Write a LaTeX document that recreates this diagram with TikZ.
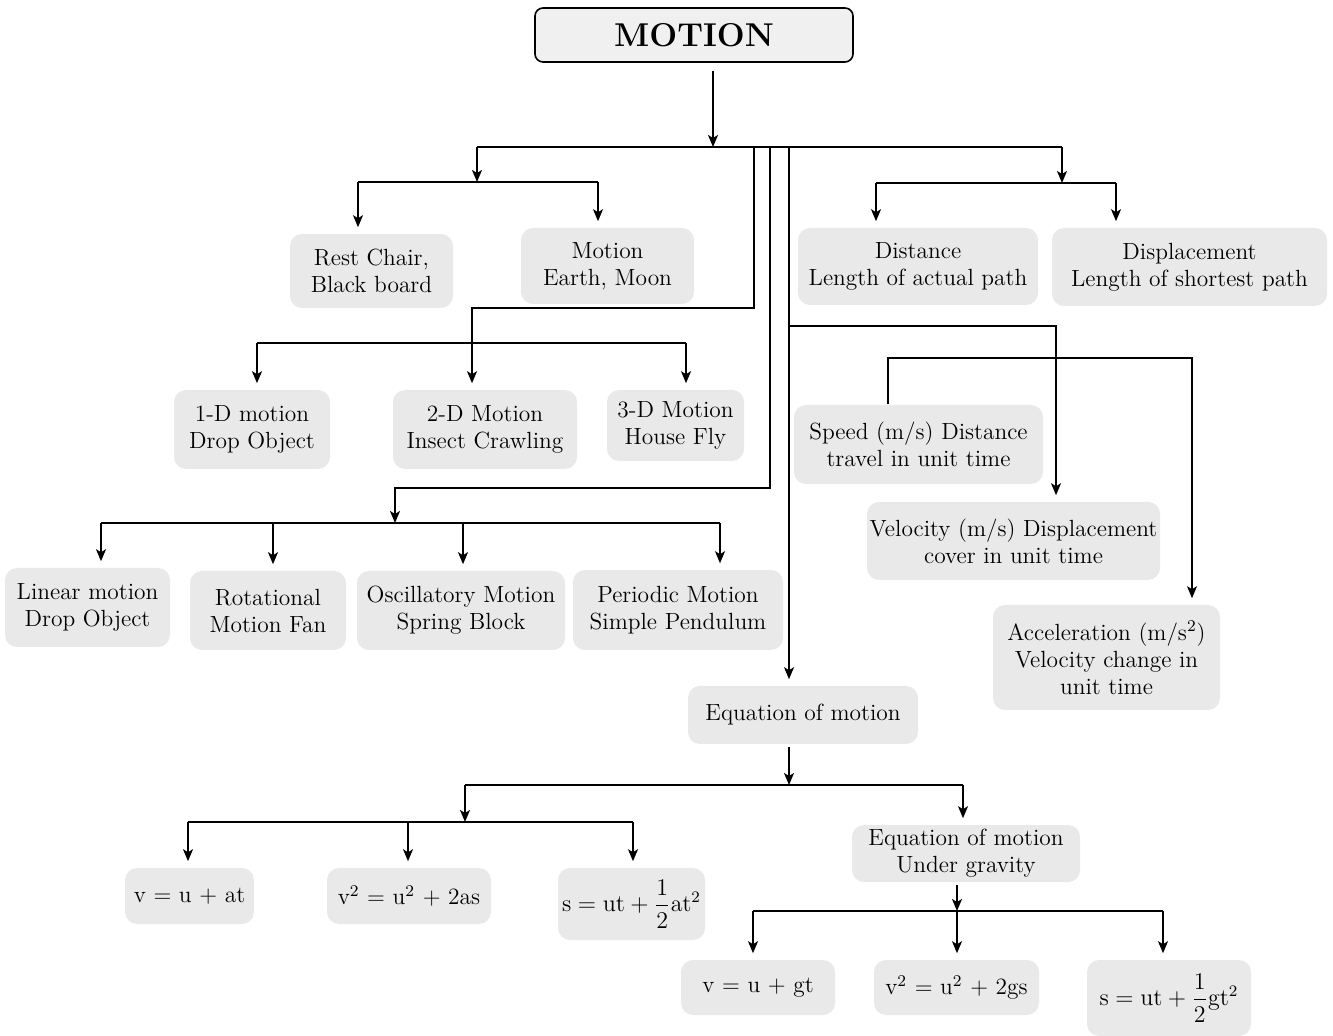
\documentclass[tikz,border=0pt]{standalone}
\usepackage{amsmath}
\usepackage{tikz}
\usetikzlibrary{arrows.meta, calc}
\definecolor{boxfill}{RGB}{233, 233, 233}
\definecolor{headfill}{RGB}{240, 240, 240}

\begin{document}
\begin{tikzpicture}[x=0.5pt, y=-0.5pt, thick,
  font=\fontsize{11.7}{13.5}\selectfont,
  box/.style={fill=boxfill, rounded corners=6pt, align=center, inner sep=0pt},
  arr/.style={-{Stealth[length=6pt, width=5pt, inset=1.5pt]}},
  tobox/.style={arr, shorten >=3pt}]

  \useasboundingbox (0, 0) rectangle (1333, 1036);

  \node[draw, fill=headfill, rounded corners=4pt, minimum width=159pt, minimum height=27pt,
    font=\fontsize{16.5}{20}\selectfont\bfseries] (motion) at (694, 35) {MOTION};

  \node[box, minimum width=81.5pt, minimum height=37pt] (rest) at (371.5, 271) {Rest Chair,\\Black board};
  \node[box, minimum width=86.5pt, minimum height=38pt] (moving) at (607.5, 266) {Motion\\Earth, Moon};
  \node[box, minimum width=120pt, minimum height=38.5pt] (distance) at (918, 266.5) {Distance\\Length of actual path};
  \node[box, minimum width=137.5pt, minimum height=39pt] (displacement) at (1189.5, 267) {Displacement\\Length of shortest path};

  \node[box, minimum width=78pt, minimum height=39.5pt] (oned) at (252, 429.5) {1-D motion\\Drop Object};
  \node[box, minimum width=92pt, minimum height=39.5pt] (twod) at (485, 429.5) {2-D Motion\\Insect Crawling};
  \node[box, minimum width=68.5pt, minimum height=35.5pt] (threed) at (675.5, 425.5) {3-D Motion\\House Fly};

  \node[box, minimum width=82.5pt, minimum height=39.5pt] (linear) at (87.5, 607.5) {Linear motion\\Drop Object};
  \node[box, minimum width=78pt, minimum height=39.5pt] (rotational) at (268, 610.5) {Rotational\\Motion Fan};
  \node[box, minimum width=104pt, minimum height=39.5pt] (oscillatory) at (461, 610.5) {Oscillatory Motion\\Spring Block};
  \node[box, minimum width=105pt, minimum height=40pt] (periodic) at (678, 610) {Periodic Motion\\Simple Pendulum};

  \node[box, minimum width=124.5pt, minimum height=39.5pt] (speed) at (918.5, 444.5) {Speed (m/s) Distance\\travel in unit time};
  \node[box, minimum width=146.5pt, minimum height=39pt] (velocity) at (1013.5, 541) {Velocity (m/s) Displacement\\cover in unit time};
  \node[box, minimum width=113.5pt, minimum height=52.5pt] (accel) at (1106.5, 657.5) {Acceleration (m/s\textsuperscript{2})\\Velocity change in\\unit time};

  \node[box, minimum width=115pt, minimum height=29pt] (eqmotion) at (803, 715) {Equation of motion};
  \node[box, minimum width=114pt, minimum height=28.5pt] (eqgravity) at (966, 853.5) {Equation of motion\\Under gravity};

  \node[box, minimum width=64.5pt, minimum height=28pt] (eqa) at (189.5, 896) {v = u + at};
  \node[box, minimum width=82pt, minimum height=28pt] (eqb) at (409, 896) {v\textsuperscript{2} = u\textsuperscript{2} + 2as};
  \node[box, minimum width=73.5pt, minimum height=36pt] (eqc) at (631.5, 904) {$\mathrm{s = ut} + \dfrac{1}{2}\mathrm{at}^{2}$};
  \node[box, minimum width=77pt, minimum height=27.5pt] (eqd) at (758, 987.5) {v = u + gt};
  \node[box, minimum width=82.5pt, minimum height=27.5pt] (eqe) at (956.5, 987.5) {v\textsuperscript{2} = u\textsuperscript{2} + 2gs};
  \node[box, minimum width=82pt, minimum height=38pt] (eqf) at (1169, 998) {$\mathrm{s = ut} + \dfrac{1}{2}\mathrm{gt}^{2}$};

  % main branches
  \coordinate (hub) at (713, 147);
  \coordinate (hubL) at (477, 147);
  \coordinate (hubR) at (1062, 147);
  \draw[arr] ([yshift=-4pt]motion.south -| hub) -- (hub);
  \draw (hubL) -- (hubR);

  % rest and motion
  \coordinate (a0) at (477, 182);
  \coordinate (a1) at (358, 182);
  \coordinate (a2) at (598, 182);
  \draw[arr] (hubL) -- (a0);
  \draw (a1) -- (a2);
  \draw[tobox] (a1) -- (a1 |- rest.north);
  \draw[tobox] (a2) -- (a2 |- moving.north);

  % distance and displacement
  \coordinate (b0) at (1062, 183);
  \coordinate (b1) at (876, 183);
  \coordinate (b2) at (1116, 183);
  \draw[arr] (hubR) -- (b0);
  \draw (b1) -- (b2);
  \draw[tobox] (b1) -- (b1 |- distance.north);
  \draw[tobox] (b2) -- (b2 |- displacement.north);

  % dimensions
  \coordinate (c0) at (754, 147);
  \coordinate (c1) at (472, 308);
  \coordinate (c2) at (257, 343);
  \coordinate (c3) at (686, 343);
  \draw[tobox] (c0) |- (c1) -- (c1 |- twod.north);
  \draw (c2) -- (c3);
  \draw[tobox] (c2) -- (c2 |- oned.north);
  \draw[tobox] (c3) -- (c3 |- threed.north);

  % types of motion
  \coordinate (d0) at (770, 147);
  \coordinate (d1) at (395, 488);
  \coordinate (d2) at (395, 523);
  \coordinate (d3) at (101, 523);
  \coordinate (d4) at (720, 523);
  \draw[arr] (d0) |- (d1) -- (d2);
  \draw (d3) -- (d4);
  \foreach \x/\n in {101/linear, 273/rotational, 463/oscillatory, 720/periodic} {
    \coordinate (dd) at (\x, 523);
    \draw[tobox] (dd) -- (dd |- \n.north);
  }

  % speed, velocity, acceleration
  \coordinate (e0) at (789, 147);
  \coordinate (e1) at (789, 326);
  \coordinate (e2) at (1056, 326);
  \draw[tobox] (e0) -- (e0 |- eqmotion.north);
  \draw[tobox] (e1) -| (e2 |- velocity.north);
  \coordinate (f0) at (888, 358);
  \coordinate (f1) at (1192, 358);
  \draw[tobox] (f0 |- speed.north) -- (f0) -- (f1) -- (f1 |- accel.north);

  % equations
  \coordinate (g0) at (789, 785);
  \coordinate (g1) at (465, 785);
  \coordinate (g2) at (963, 785);
  \coordinate (g3) at (465, 822);
  \coordinate (g4) at (188, 822);
  \coordinate (g5) at (633, 822);
  \draw[arr] ([yshift=-1pt]g0 |- eqmotion.south) -- (g0);
  \draw (g1) -- (g2);
  \draw[arr] (g1) -- (g3);
  \draw[tobox] (g2) -- (g2 |- eqgravity.north);
  \draw (g4) -- (g5);
  \foreach \x/\n in {188/eqa, 408/eqb, 633/eqc} {
    \coordinate (gg) at (\x, 822);
    \draw[tobox] (gg) -- (gg |- \n.north);
  }

  \coordinate (h0) at (957, 911);
  \coordinate (h1) at (753, 911);
  \coordinate (h2) at (1163, 911);
  \draw[arr] ([yshift=-1pt]h0 |- eqgravity.south) -- (h0);
  \draw (h1) -- (h2);
  \foreach \x/\n in {753/eqd, 957/eqe, 1163/eqf} {
    \coordinate (hh) at (\x, 911);
    \draw[tobox] (hh) -- (hh |- \n.north);
  }

\end{tikzpicture}
\end{document}
